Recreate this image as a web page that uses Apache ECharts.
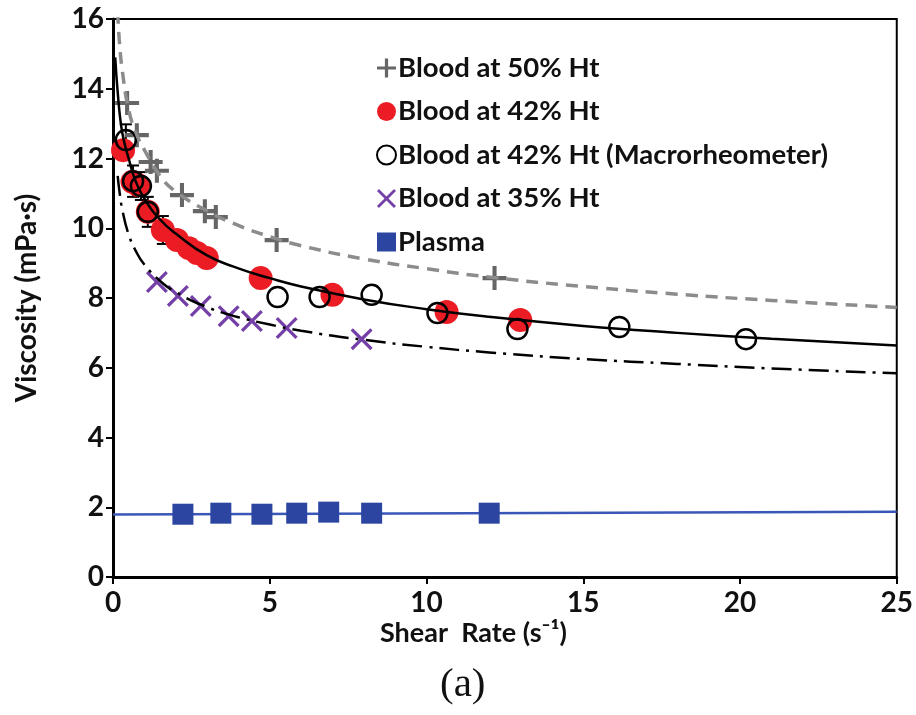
<!DOCTYPE html>
<html>
<head>
<meta charset="utf-8">
<script src="https://cdn.jsdelivr.net/npm/echarts@6/dist/echarts.min.js"></script>
<style>
html,body{margin:0;padding:0;background:#fff;}
#chart{width:916px;height:715px;}
</style>
</head>
<body>
<div id="chart"></div>
<script>
// ---- data ----
const xTickLabels = [0, 5, 10, 15, 20, 25];
const yTickLabels = [0, 2, 4, 6, 8, 10, 12, 14, 16];

const ht50X = [0.45, 0.76, 1.2, 1.4, 2.2, 2.93, 3.28, 5.22, 12.17];
const ht50Y = [13.59, 12.67, 11.9, 11.65, 10.95, 10.49, 10.32, 9.66, 8.57];

const ht42X = [0.32, 0.62, 0.8, 1.11, 1.59, 2.04, 2.42, 2.68, 2.99, 4.71, 7.0, 10.64, 12.99];
const ht42Y = [12.24, 11.33, 11.24, 10.47, 9.95, 9.66, 9.43, 9.29, 9.15, 8.57, 8.09, 7.6, 7.37];

const macroX = [0.41, 0.64, 0.89, 1.11, 5.25, 6.59, 8.25, 10.35, 12.9, 16.15, 20.19];
const macroY = [12.53, 11.35, 11.21, 10.47, 8.03, 8.03, 8.09, 7.57, 7.11, 7.17, 6.82];

const ht35X = [1.4, 2.07, 2.8, 3.69, 4.43, 5.54, 7.93];
const ht35Y = [8.46, 8.06, 7.77, 7.48, 7.34, 7.14, 6.82];

const plasmaX = [2.23, 3.44, 4.75, 5.86, 6.88, 8.25, 12.0];
const plasmaY = [1.80, 1.83, 1.80, 1.83, 1.86, 1.83, 1.83];

// error bars (x, y, +/- error)
const errX = [0.41, 0.64, 0.89, 1.11, 1.59];
const errY = [12.53, 11.35, 11.21, 10.47, 9.95];
const errE = [0.45, 0.45, 0.4, 0.43, 0.4];

// trend curves
const fit50X = [0.15, 0.2, 0.3, 0.5, 0.75, 1, 1.5, 2, 3, 4, 5, 6, 8, 10, 12, 15, 18, 21, 25];
const fit50Y = [16.2, 15.4, 14.5, 13.4, 12.7, 12.25, 11.5, 11.05, 10.5, 10.08, 9.76, 9.5, 9.12, 8.84, 8.6, 8.33, 8.11, 7.93, 7.73];

const fit42X = [0.07, 0.15, 0.25, 0.35, 0.5, 0.7, 1.0, 1.5, 2, 3, 4, 5, 6, 8, 10, 12, 15, 18, 21, 25];
const fit42Y = [14.9, 13.9, 13.0, 12.5, 12.0, 11.4, 10.85, 10.25, 9.85, 9.22, 8.85, 8.57, 8.33, 7.96, 7.68, 7.46, 7.2, 7.0, 6.83, 6.64];

const fit35X = [0.15, 0.2, 0.3, 0.5, 0.75, 1, 1.5, 2, 3, 4, 5, 6, 8, 10, 12, 15, 18, 21, 25];
const fit35Y = [11.5, 11.1, 10.52, 9.82, 9.31, 8.96, 8.49, 8.17, 7.74, 7.45, 7.24, 7.06, 6.8, 6.6, 6.44, 6.25, 6.11, 5.98, 5.84];

const plasmaFitX = [0, 25];
const plasmaFitY = [1.79, 1.87];

const seriesNames = ['Blood at 50% Ht', 'Blood at 42% Ht', 'Blood at 42% Ht (Macrorheometer)', 'Blood at 35% Ht', 'Plasma'];

// ---- helpers ----
const zip = (xs, ys) => xs.map((x, i) => [x, ys[i]]);
const PLUS = 'path://M8.3,0H11.7V8.3H20V11.7H11.7V20H8.3V11.7H0V8.3H8.3Z';
const CROSS = 'path://M0,2.1L2.1,0L10,7.9L17.9,0L20,2.1L12.1,10L20,17.9L17.9,20L10,12.1L2.1,20L0,17.9L7.9,10Z';
const FONT = 'Lato';

const chart = echarts.init(document.getElementById('chart'), null, {renderer: 'canvas'});

const option = {
  backgroundColor: '#ffffff',
  animation: false,
  grid: {left: 113, right: 18, top: 19, bottom: 138, show: true, borderColor: '#000', borderWidth: 2, backgroundColor: 'transparent'},
  legend: {
    data: seriesNames,
    orient: 'vertical',
    left: 371,
    top: 49,
    itemWidth: 19,
    itemHeight: 19,
    itemGap: 15.5,
    textStyle: {fontFamily: FONT, fontWeight: 'bold', fontSize: 27.5, color: '#111', lineHeight: 28, padding: [0, 0, 0, -3]},
    selectedMode: false
  },
  xAxis: {
    type: 'value', min: xTickLabels[0], max: xTickLabels[xTickLabels.length - 1], interval: 5,
    axisLine: {show: true, onZero: false, lineStyle: {color: '#000', width: 3}},
    axisTick: {show: true, inside: false, length: 7, lineStyle: {color: '#000', width: 2}},
    axisLabel: {fontFamily: FONT, fontWeight: 'bold', fontSize: 28, color: '#111', margin: 12},
    splitLine: {show: false}
  },
  yAxis: {
    type: 'value', min: yTickLabels[0], max: yTickLabels[yTickLabels.length - 1], interval: 2,
    axisLine: {show: true, onZero: false, lineStyle: {color: '#000', width: 3}},
    axisTick: {show: true, inside: false, length: 7, lineStyle: {color: '#000', width: 2}},
    axisLabel: {fontFamily: FONT, fontWeight: 'bold', fontSize: 28, color: '#111', margin: 9},
    splitLine: {show: false},
    name: 'Viscosity (mPa·s)',
    nameLocation: 'middle',
    nameGap: 72,
    nameRotate: 90,
    nameTextStyle: {fontFamily: FONT, fontWeight: 'bold', fontSize: 28, color: '#111'}
  },
  graphic: [
    {type: 'text', left: 380, top: 620, style: {text: 'Shear  Rate (s⁻¹)', fontFamily: FONT, fontWeight: 'bold', fontSize: 27, fill: '#111'}},
    {type: 'text', left: 440, top: 665, style: {text: '(a)', fontFamily: 'Liberation Serif', fontSize: 41, fill: '#111'}}
  ],
  series: [
    {
      name: 'errbars', type: 'custom', z: 2, silent: true,
      data: errX.map((x, i) => [x, errY[i], errE[i]]),
      renderItem: function (params, api) {
        const x = api.value(0), y = api.value(1), e = api.value(2);
        const t = api.coord([x, y + e]), b = api.coord([x, y - e]);
        const h = 6;
        const st = {stroke: '#000', lineWidth: 2};
        return {type: 'group', children: [
          {type: 'line', shape: {x1: t[0], y1: t[1], x2: b[0], y2: b[1]}, style: st},
          {type: 'line', shape: {x1: t[0] - h, y1: t[1], x2: t[0] + h, y2: t[1]}, style: st},
          {type: 'line', shape: {x1: b[0] - h, y1: b[1], x2: b[0] + h, y2: b[1]}, style: st}
        ]};
      }
    },
    {name: seriesNames[0], type: 'scatter', z: 3, symbol: PLUS, symbolSize: 24, data: zip(ht50X, ht50Y), itemStyle: {color: '#666666', opacity: 1}},
    {name: seriesNames[1], type: 'scatter', z: 3, symbol: 'circle', symbolSize: 24, data: zip(ht42X, ht42Y), itemStyle: {color: '#ec1c24', opacity: 1}},
    {name: seriesNames[2], type: 'scatter', z: 4, symbol: 'circle', symbolSize: 20, data: zip(macroX, macroY), itemStyle: {color: 'rgba(255,255,255,0)', borderColor: '#000', borderWidth: 2.5, opacity: 1}},
    {name: seriesNames[3], type: 'scatter', z: 3, symbol: CROSS, symbolSize: 22, data: zip(ht35X, ht35Y), itemStyle: {color: '#7440a8', opacity: 1}},
    {name: seriesNames[4], type: 'scatter', z: 3, symbol: 'rect', symbolSize: 21, data: zip(plasmaX, plasmaY), itemStyle: {color: '#2b45a0', opacity: 1}},
    {name: 'fit50', type: 'line', z: 5, smooth: true, showSymbol: false, symbol: 'none', clip: true, data: zip(fit50X, fit50Y), lineStyle: {color: '#8c8c8c', width: 3.5, type: [12, 8]}},
    {name: 'fit42', type: 'line', z: 5, smooth: true, showSymbol: false, symbol: 'none', clip: true, data: zip(fit42X, fit42Y), lineStyle: {color: '#000', width: 2.5}},
    {name: 'fit35', type: 'line', z: 5, smooth: true, showSymbol: false, symbol: 'none', clip: true, data: zip(fit35X, fit35Y), lineStyle: {color: '#000', width: 2.5, type: [20, 7, 3, 7]}},
    {name: 'fitPlasma', type: 'line', z: 2, showSymbol: false, symbol: 'none', data: zip(plasmaFitX, plasmaFitY), lineStyle: {color: '#3a57b8', width: 2.5}}
  ]
};
chart.setOption(option);
</script>
</body>
</html>
